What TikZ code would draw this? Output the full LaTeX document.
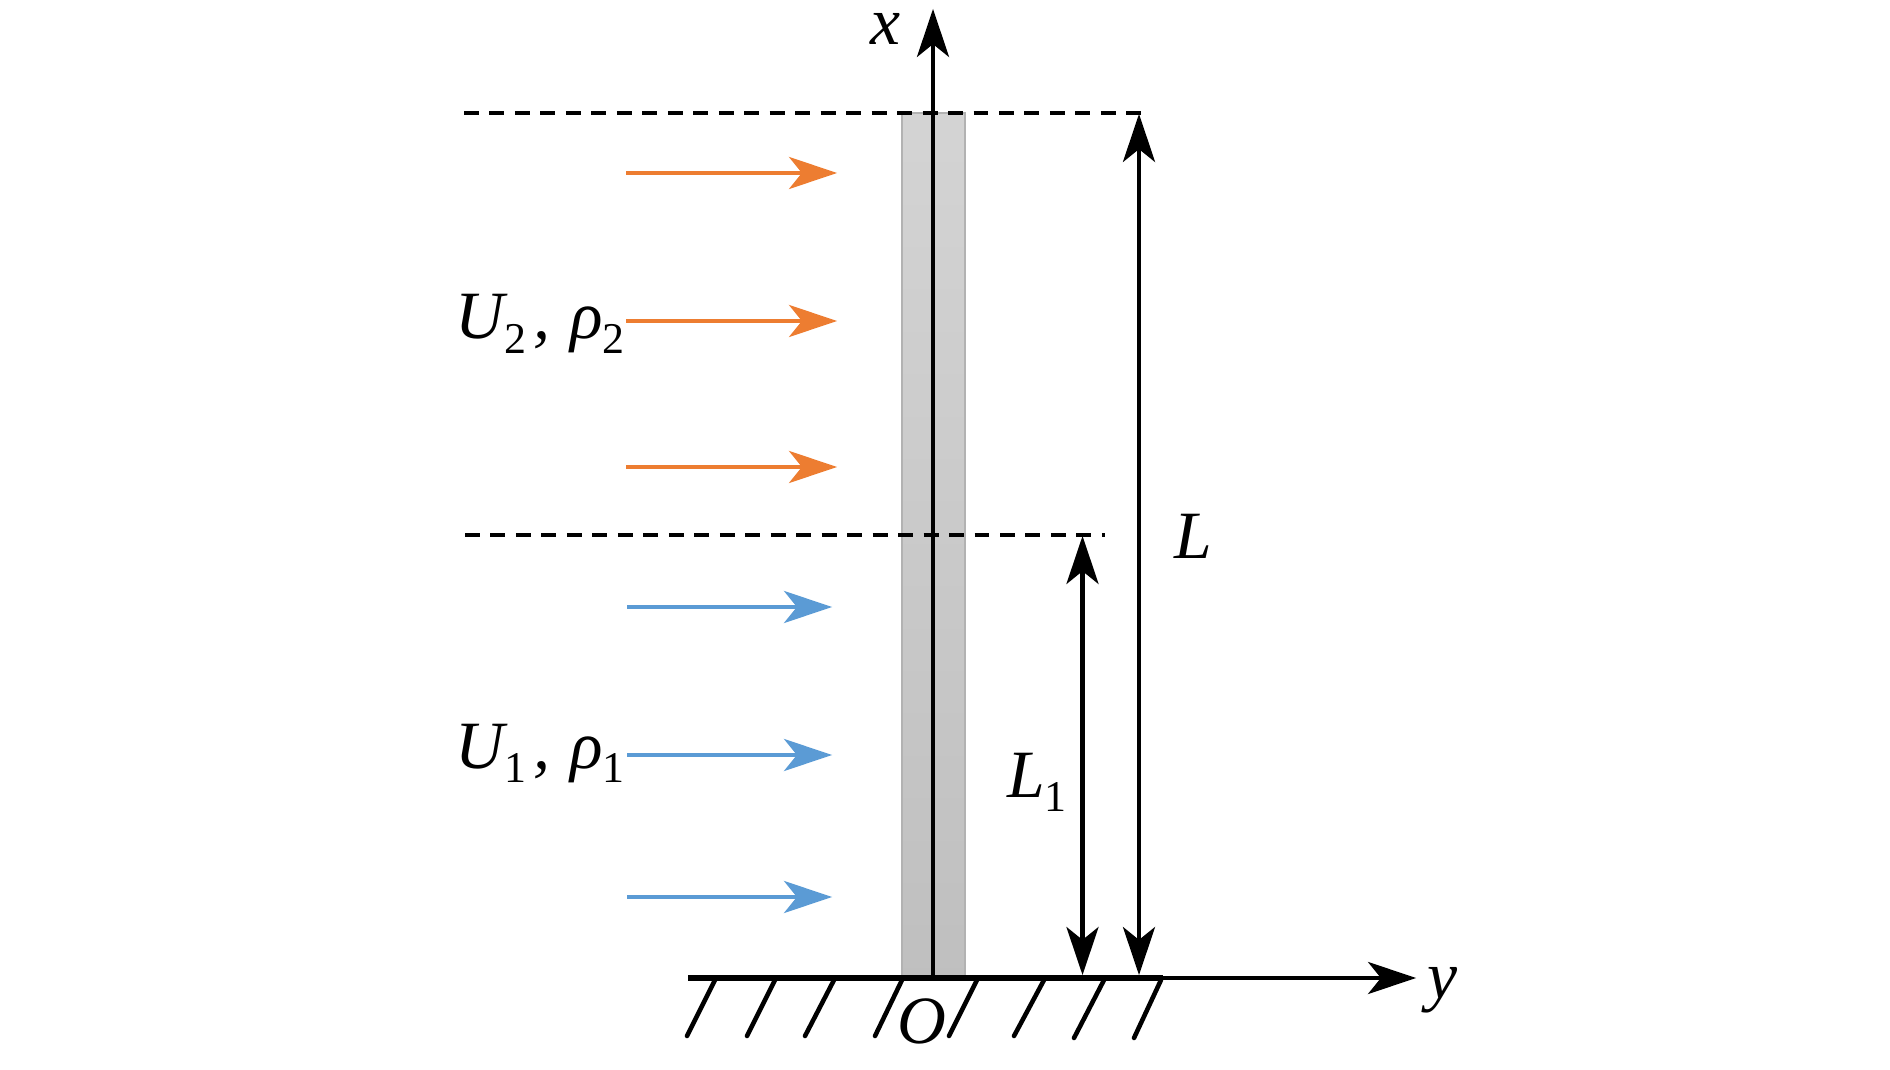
\documentclass[tikz,border=0pt]{standalone}
\usepackage{fontspec}
\setmainfont{Liberation Serif}
\usetikzlibrary{arrows.meta}
\definecolor{flowtwo}{HTML}{ED7D31}
\definecolor{flowone}{HTML}{5B9BD5}
\newcommand{\lblsub}[1]{\raisebox{-8.5pt}{\fontsize{25}{25}\selectfont\upshape #1}}
\newcommand{\lblpair}[2]{U\lblsub{#1}\kern4.4pt,\kern11.2pt ρ\lblsub{#2}}
\tikzset{
	tipbig/.tip={Stealth[length=27.5pt,width=18.5pt,inset=7.5pt,line width=0pt]},
	axisline/.style={line width=2.5pt,-tipbig},
	dimline/.style={line width=2.5pt,tipbig-tipbig},
	levelline/.style={line width=2.2pt,dash pattern=on 8.5pt off 6pt},
	flowarrow/.style={line width=2.5pt,-tipbig},
	hatchline/.style={line width=2.6pt,line cap=round},
	lbl/.style={inner sep=0pt,anchor=base west,font=\fontsize{38.5}{40}\selectfont\itshape}
}
\begin{document}
\begin{tikzpicture}[line join=miter,x=0.02cm,y=-0.02cm]
	\useasboundingbox (0,0) rectangle (1890,1070);
	\coordinate (O) at (933,978);
	\coordinate (xtip) at (933,9);
	\coordinate (ytip) at (1416,978);
	\coordinate (groundL) at (688,978);
	\coordinate (groundR) at (1163,978);
	\coordinate (topL) at (464,113);
	\coordinate (topR) at (1149,113);
	\coordinate (midL) at (465,535);
	\coordinate (midR) at (1105,535);
	\coordinate (Ltop) at (1139,114);
	\coordinate (Lbot) at (1139,975);
	\coordinate (Lonetop) at (1082.5,536);
	\coordinate (Lonebot) at (1082.5,975);
	\shade[top color=black!17,bottom color=black!25,draw=black!30,line width=1pt] (902,113) rectangle (965,978);
	\draw[levelline] (topL) -- (topR);
	\draw[levelline] (midL) -- (midR);
	\draw[axisline] (O) -- (xtip);
	\draw[line width=3pt] (groundL) -- (groundR);
	\draw[axisline] (O) -- (ytip);
	\draw[dimline] (Lbot) -- (Ltop);
	\draw[dimline] (Lonebot) -- (Lonetop);
	\draw[flowarrow,flowtwo] (626,173) coordinate (twoA) -- (837,173);
	\draw[flowarrow,flowtwo] (626,321) coordinate (twoB) -- (837,321);
	\draw[flowarrow,flowtwo] (626,467) coordinate (twoC) -- (837,467);
	\draw[flowarrow,flowone] (627,607) coordinate (oneA) -- (832,607);
	\draw[flowarrow,flowone] (627,755) coordinate (oneB) -- (832,755);
	\draw[flowarrow,flowone] (627,897) coordinate (oneC) -- (832,897);
	\draw[hatchline] (715,980) -- (687,1036);
	\draw[hatchline] (775,980) -- (747,1036);
	\draw[hatchline] (834,980) -- (805,1036);
	\draw[hatchline] (902,980) -- (875,1036);
	\draw[hatchline] (977,980) -- (949,1036);
	\draw[hatchline] (1044,980) -- (1014,1036);
	\draw[hatchline] (1104,980) -- (1074,1038);
	\draw[hatchline] (1161,980) -- (1134,1038);
	\node[lbl] (labx) at (870,45) {x};
	\node[lbl] (laby) at (1427,998) {y};
	\node[lbl] (labO) at (897,1043) {O};
	\node[lbl] (labL) at (1174,559) {L};
	\node[lbl] (labLone) at (1007,797) {L\lblsub{1}};
	\node[lbl] (labtwo) at (455,339) {\lblpair{2}{2}};
	\node[lbl] (labone) at (455,768) {\lblpair{1}{1}};
\end{tikzpicture}
\end{document}
